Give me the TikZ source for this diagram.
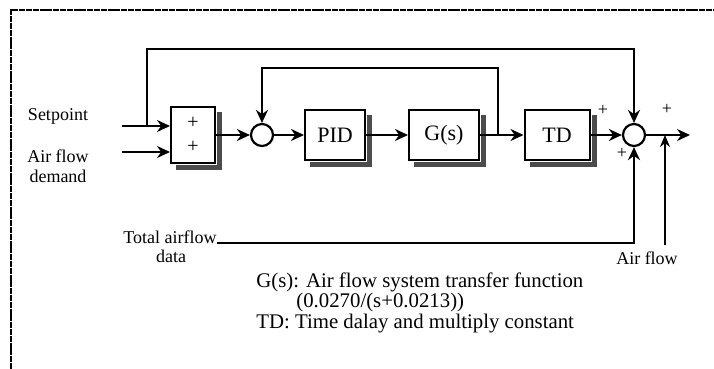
\documentclass[tikz,border=0pt]{standalone}
\usepackage{fontspec}
\setmainfont{Liberation Serif}
\usetikzlibrary{arrows.meta,positioning,calc}

\begin{document}
\begin{tikzpicture}[
  x=0.5pt,y=-0.5pt,
  every node/.style={font=\fontsize{9}{10}\selectfont,inner sep=0pt},
  blk/.style={draw,line width=1pt,fill=white,font=\fontsize{11}{12}\selectfont,
              minimum height=25pt},
  boxshadow/.style={fill=black!70,draw=none},
  sumpt/.style={draw,circle,line width=1.1pt,fill=white,minimum size=11pt},
  arr/.style={-{Stealth[length=6.5pt,width=6pt]},line width=1.2pt},
  tarr/.style={-{Stealth[length=6pt,width=5pt]},line width=0.6pt},
  frame/.style={line width=0.6pt,dash pattern=on 3pt off 0.4pt}
]
\useasboundingbox (0,0) rectangle (714,369);
\draw[frame] (11,369) -- (11,10) -- (714,10);

% inputs
\node (setpt) at (58,116) {Setpoint};
\node[align=center] (afd) at (58,166) {Air flow\\demand};
\coordinate (spin) at (122,126);
\coordinate (afin) at (122,152);
\coordinate (br1) at (147,126);

% blocks
\node[blk,minimum width=22pt,minimum height=28pt,align=center,
      font=\fontsize{10}{12}\selectfont] (add) at (193,135) {+\\+};
\node[sumpt] (c1) at (262,135) {};
\node[blk,minimum width=30pt] (pid) at (335,135) {PID};
\node[blk,minimum width=35pt] (gs) at (444,135) {G(s)};
\node[blk,minimum width=32.5pt] (td) at (557,135) {TD};
\node[sumpt] (c2) at (634,135) {};
\coordinate (out) at (690,135);
\coordinate (br2) at (498,135);

% shadows to the right of and below the blocks
\foreach \b in {add,pid,gs,td}{
  \fill[boxshadow] ($(\b.north east)+(1,6)$) rectangle ($(\b.south east)+(6,6)$);
  \fill[boxshadow] ($(\b.south west)+(6,1)$) rectangle ($(\b.south east)+(6,6)$);
}

% signs
\node (p1) at (603,110) {+};
\node (p2) at (667,109) {+};
\node (p3) at (622,153) {+};

% forward path
\draw[arr] (spin) -- (spin -| add.west);
\draw[arr] (afin) -- (afin -| add.west);
\draw[arr] (add) -- (c1);
\draw[arr] (c1) -- (pid);
\draw[arr] (pid) -- (gs);
\draw[arr] (gs) -- (td);
\draw[arr] (td) -- (c2);
\draw[arr] (c2) -- (out);

% loops
\draw[arr] (br1) -- (br1 |- 0,49) -| (c2.north);
\draw[arr] (br2) -- (br2 |- 0,68) -| (c1.north);

% measured signals
\node (taf) at (170,237) {Total airflow};
\node (tafd) at (171,256) {data};
\draw[arr] (taf.base east) -| (c2.south);
\node (afl) at (647,258) {Air flow};
\coordinate (afbot) at (665,245);
\draw[tarr] (afbot) -- (afbot |- out);

% legend
\node[anchor=north west,align=left,font=\fontsize{10.4}{10.3}\selectfont] (leg) at (256,272)
  {G(s): Air flow system transfer function\\
   \hspace{20pt}(0.0270/(s+0.0213))\\
   TD: Time dalay and multiply constant};
\end{tikzpicture}
\end{document}
